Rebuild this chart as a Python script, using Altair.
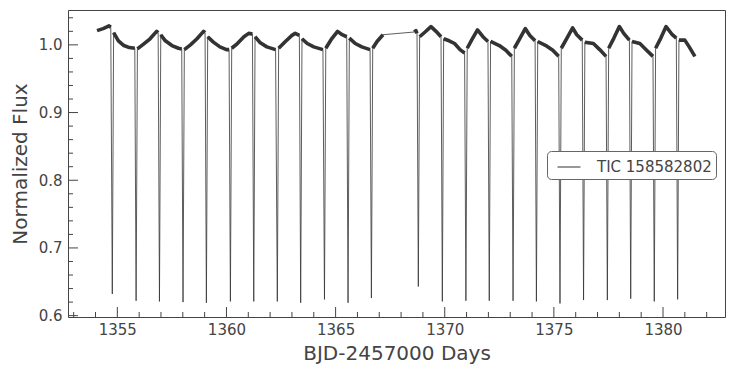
import altair as alt
import pandas as pd

# ---- data ----
label = "TIC 158582802"

# eclipse minima: time (BJD-2457000) and normalized flux at the bottom
ecl_time = [1354.77, 1355.86, 1356.93, 1358.01, 1359.08, 1360.18, 1361.25, 1362.33,
            1363.40, 1364.49, 1365.57, 1366.64, 1368.79, 1369.89, 1370.97, 1372.04,
            1373.13, 1374.20, 1375.28, 1376.36, 1377.45, 1378.52, 1379.60, 1380.67]
ecl_depth = [0.632, 0.622, 0.621, 0.620, 0.619, 0.621, 0.621, 0.621,
             0.619, 0.624, 0.619, 0.626, 0.643, 0.621, 0.622, 0.622,
             0.622, 0.621, 0.618, 0.623, 0.623, 0.625, 0.621, 0.624]

# out-of-eclipse stretches (times and fluxes), one list per stretch
seg_time = [
    [1354.07, 1354.35, 1354.62, 1354.70],
    [1354.83, 1355.05, 1355.30, 1355.55, 1355.80],
    [1355.92, 1356.20, 1356.50, 1356.80, 1356.87],
    [1356.99, 1357.20, 1357.50, 1357.80, 1357.95],
    [1358.07, 1358.35, 1358.65, 1358.95, 1359.02],
    [1359.14, 1359.40, 1359.70, 1360.00, 1360.12],
    [1360.24, 1360.50, 1360.80, 1361.02, 1361.19],
    [1361.31, 1361.55, 1361.85, 1362.25],
    [1362.39, 1362.70, 1363.00, 1363.15, 1363.34],
    [1363.46, 1363.70, 1364.00, 1364.42],
    [1364.55, 1364.80, 1365.09, 1365.30, 1365.51],
    [1365.63, 1365.90, 1366.20, 1366.58],
    [1366.70, 1366.90, 1367.17],
    [1368.60, 1368.68, 1368.73],
    [1368.85, 1369.10, 1369.37, 1369.60, 1369.83],
    [1369.95, 1370.20, 1370.45, 1370.70, 1370.91],
    [1371.03, 1371.25, 1371.50, 1371.75, 1371.98],
    [1372.10, 1372.50, 1372.80, 1373.07],
    [1373.19, 1373.45, 1373.69, 1373.90, 1374.14],
    [1374.26, 1374.68, 1374.95, 1375.22],
    [1375.34, 1375.60, 1375.86, 1376.05, 1376.30],
    [1376.42, 1376.81, 1377.10, 1377.39],
    [1377.51, 1377.75, 1378.00, 1378.20, 1378.46],
    [1378.58, 1378.94, 1379.25, 1379.54],
    [1379.66, 1379.90, 1380.14, 1380.40, 1380.61],
    [1380.73, 1381.00, 1381.20, 1381.46],
]
seg_flux = [
    [1.021, 1.024, 1.028, 1.026],
    [1.018, 1.006, 0.999, 0.996, 0.995],
    [0.994, 1.001, 1.009, 1.020, 1.018],
    [1.015, 1.006, 0.999, 0.995, 0.994],
    [0.993, 1.000, 1.009, 1.020, 1.018],
    [1.012, 1.004, 0.997, 0.993, 0.993],
    [0.995, 1.002, 1.012, 1.017, 1.016],
    [1.012, 1.003, 0.997, 0.993],
    [0.995, 1.005, 1.014, 1.017, 1.014],
    [1.009, 1.002, 0.997, 0.993],
    [0.995, 1.008, 1.020, 1.015, 1.012],
    [1.010, 1.002, 0.997, 0.993],
    [0.995, 1.005, 1.015],
    [1.019, 1.021, 1.017],
    [1.012, 1.019, 1.027, 1.020, 1.012],
    [1.009, 1.006, 1.002, 0.993, 0.988],
    [0.995, 1.008, 1.022, 1.012, 1.005],
    [1.005, 0.999, 0.992, 0.983],
    [0.995, 1.010, 1.024, 1.014, 1.006],
    [1.005, 0.998, 0.992, 0.983],
    [0.995, 1.010, 1.025, 1.015, 1.007],
    [1.004, 1.002, 0.993, 0.983],
    [0.995, 1.010, 1.027, 1.017, 1.007],
    [1.005, 1.002, 0.992, 0.983],
    [0.995, 1.010, 1.027, 1.016, 1.010],
    [1.007, 1.007, 0.997, 0.983],
]

x_major = [1355, 1360, 1365, 1370, 1375, 1380]
x_minor = [1353, 1354, 1356, 1357, 1358, 1359, 1361, 1362, 1363, 1364, 1366, 1367,
           1368, 1369, 1371, 1372, 1373, 1374, 1376, 1377, 1378, 1379, 1381, 1382]
y_major = [0.6, 0.7, 0.8, 0.9, 1.0]
y_minor = [0.62, 0.64, 0.66, 0.68, 0.72, 0.74, 0.76, 0.78, 0.82, 0.84, 0.86, 0.88,
           0.92, 0.94, 0.96, 0.98, 1.02, 1.04]

# ---- tables ----
cont_rows = []
for i, (ts, fs) in enumerate(zip(seg_time, seg_flux)):
    for t, f in zip(ts, fs):
        cont_rows.append({"time": t, "flux": f, "seg": i, "label": label})
cont = pd.DataFrame(cont_rows)
ecl = pd.DataFrame({"time": ecl_time, "flux": ecl_depth, "seg": -1, "label": label})
full = pd.concat([cont, ecl]).sort_values("time").reset_index(drop=True)

W, H = 657, 307
xs = alt.Scale(domain=[1352.74, 1382.84], nice=False, zero=False)
ys = alt.Scale(domain=[0.598, 1.0515], nice=False, zero=False)
ink = "#333333"
axcol = "#444444"

xaxis = alt.Axis(values=x_major, format="d", title="BJD-2457000 Days", labelPadding=5,
                 titlePadding=6)
yaxis = alt.Axis(values=y_major, format=".1f", title="Normalized Flux", labelPadding=6,
                 titlePadding=8)

thin = alt.Chart(full).mark_line(strokeWidth=0.8, interpolate="linear").encode(
    x=alt.X("time:Q", scale=xs, axis=xaxis),
    y=alt.Y("flux:Q", scale=ys, axis=yaxis),
    order="time:Q",
    color=alt.Color("label:N", scale=alt.Scale(range=[ink]), title=None,
                    legend=alt.Legend(orient="none", legendX=479, legendY=141,
                                      symbolType="stroke", symbolSize=529,
                                      symbolStrokeWidth=1, symbolOffset=6,
                                      labelFontSize=15, labelFont="DejaVu Sans",
                                      labelColor=axcol, labelOffset=16,
                                      padding=4, cornerRadius=4,
                                      strokeColor="#666666", fillColor="white")),
)

thick = alt.Chart(cont).mark_line(strokeWidth=3.6, color=ink, strokeJoin="round").encode(
    x=alt.X("time:Q", scale=xs),
    y=alt.Y("flux:Q", scale=ys),
    detail="seg:N",
    order="time:Q",
)

xmaj = alt.Chart(pd.DataFrame({"time": x_major})).mark_rule(color=axcol, strokeWidth=1).encode(
    x=alt.X("time:Q", scale=xs), y=alt.value(H), y2=alt.value(H - 10))
xmin = alt.Chart(pd.DataFrame({"time": x_minor})).mark_rule(color=axcol, strokeWidth=1).encode(
    x=alt.X("time:Q", scale=xs), y=alt.value(H), y2=alt.value(H - 5))
ymaj = alt.Chart(pd.DataFrame({"flux": y_major})).mark_rule(color=axcol, strokeWidth=1).encode(
    y=alt.Y("flux:Q", scale=ys), x=alt.value(0), x2=alt.value(10))
ymin = alt.Chart(pd.DataFrame({"flux": y_minor})).mark_rule(color=axcol, strokeWidth=1).encode(
    y=alt.Y("flux:Q", scale=ys), x=alt.value(0), x2=alt.value(5))

chart = alt.layer(thin, thick, xmaj, xmin, ymaj, ymin).properties(
    width=W, height=H,
    autosize=alt.AutoSizeParams(type="none"),
    padding={"left": 60, "top": 2, "right": 2, "bottom": 50},
).configure_view(stroke=axcol, strokeWidth=1).configure_axis(
    grid=False, ticks=False, domain=False,
    labelFont="DejaVu Sans", labelFontSize=15, labelColor=axcol,
    titleFont="DejaVu Sans", titleFontSize=20, titleFontWeight="normal", titleColor=axcol,
)

chart.save("out.html", embed_options={"renderer": "svg", "actions": False})
